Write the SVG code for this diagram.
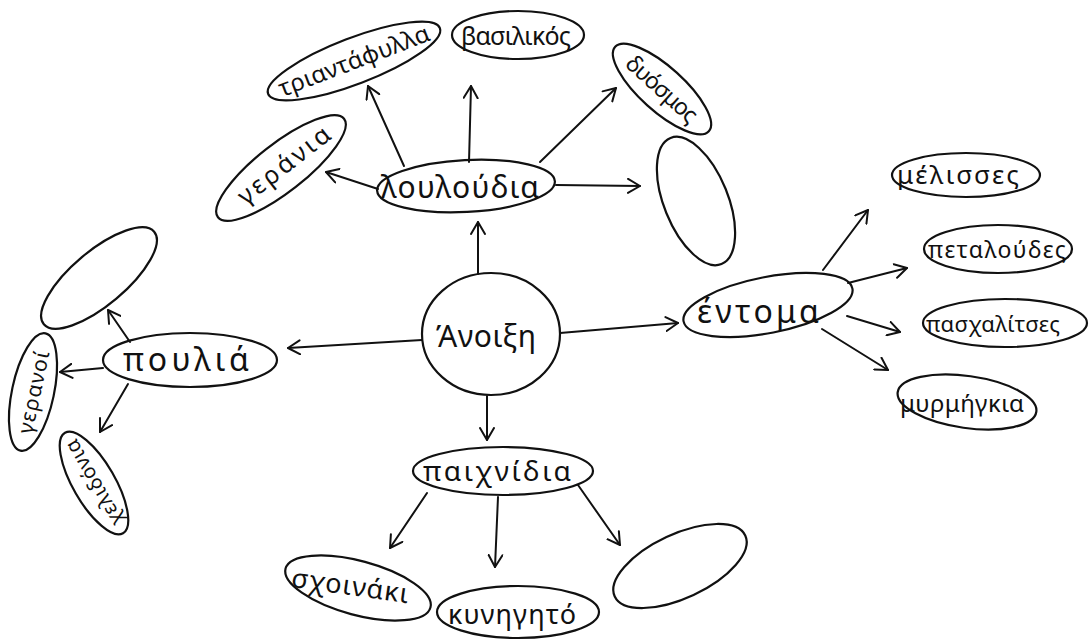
<svg xmlns="http://www.w3.org/2000/svg" width="1089" height="642" viewBox="0 0 1089 642">
<defs>
<marker id="arr" markerUnits="userSpaceOnUse" markerWidth="16" markerHeight="16" refX="13" refY="8" orient="auto">
<path d="M1,1 L13,8 L1,15" fill="none" stroke="#111" stroke-width="2" stroke-linecap="round" stroke-linejoin="round"/>
</marker>
</defs>
<style>
.n{fill:none;stroke:#111;stroke-width:2.2}
.t{font-family:"Noto Sans","DejaVu Sans",sans-serif;fill:#111;text-anchor:middle}
.c{fill:none;stroke:#111;stroke-width:2;stroke-linecap:round;marker-end:url(#arr)}
</style>
<rect width="1089" height="642" fill="#fff"/>
<g id="connectors">
<line class="c" x1="478" y1="274" x2="478" y2="222"/>
<line class="c" x1="422" y1="340" x2="288" y2="348"/>
<line class="c" x1="560" y1="333" x2="678" y2="323"/>
<line class="c" x1="487" y1="396" x2="487" y2="440"/>
<line class="c" x1="378" y1="189" x2="326" y2="172"/>
<line class="c" x1="404" y1="166" x2="368" y2="86"/>
<line class="c" x1="469" y1="162" x2="471" y2="86"/>
<line class="c" x1="540" y1="162" x2="616" y2="88"/>
<line class="c" x1="556" y1="185" x2="640" y2="186"/>
<line class="c" x1="130" y1="342" x2="108" y2="310"/>
<line class="c" x1="103" y1="368" x2="60" y2="372"/>
<line class="c" x1="128" y1="384" x2="100" y2="432"/>
<line class="c" x1="823" y1="270" x2="868" y2="210"/>
<line class="c" x1="848" y1="283" x2="907" y2="268"/>
<line class="c" x1="847" y1="316" x2="900" y2="332"/>
<line class="c" x1="822" y1="329" x2="888" y2="370"/>
<line class="c" x1="427" y1="493" x2="390" y2="548"/>
<line class="c" x1="498" y1="497" x2="495" y2="567"/>
<line class="c" x1="578" y1="485" x2="620" y2="545"/>
</g>
<g id="n-anoixi">
<ellipse class="n" cx="491" cy="334" rx="69" ry="61"/>
<text class="t" x="486" y="347" font-size="30" textLength="100">Άνοιξη</text>
</g>
<g id="n-louloudia">
<ellipse class="n" cx="466" cy="186" rx="89" ry="26" transform="rotate(-3 466 186)"/>
<text class="t" x="460" y="198" font-size="30" textLength="158">λουλούδια</text>
</g>
<g id="n-triantafylla">
<ellipse class="n" cx="354" cy="61" rx="92" ry="23" transform="rotate(-21 354 61)"/>
<text class="t" x="354" y="69" font-size="24" textLength="160" transform="rotate(-21 354 61)">τριαντάφυλλα</text>
</g>
<g id="n-vasilikos">
<ellipse class="n" cx="518" cy="35" rx="66" ry="24"/>
<text class="t" x="516" y="45" font-size="25" textLength="110">βασιλικός</text>
</g>
<g id="n-dyosmos">
<ellipse class="n" cx="662" cy="89" rx="63" ry="22" transform="rotate(42 662 89)"/>
<text class="t" x="662" y="97" font-size="23" textLength="88" transform="rotate(42 662 89)">δυόσμος</text>
</g>
<g id="n-gerania">
<ellipse class="n" cx="281" cy="168" rx="80" ry="24" transform="rotate(-38 281 168)"/>
<text class="t" x="285" y="176" font-size="25" textLength="110" transform="rotate(-38 281 168)">γεράνια</text>
</g>
<g id="n-empty-flowers">
<ellipse class="n" cx="696" cy="201" rx="68" ry="32" transform="rotate(68 696 201)"/>
</g>
<g id="n-poulia">
<ellipse class="n" cx="190" cy="360" rx="87" ry="27"/>
<text class="t" x="186" y="371" font-size="32" textLength="126">πουλιά</text>
</g>
<g id="n-empty-birds">
<ellipse class="n" cx="99" cy="278" rx="72" ry="27" transform="rotate(-40 99 278)"/>
</g>
<g id="n-geranoi">
<ellipse class="n" cx="33" cy="392" rx="60" ry="21" transform="rotate(-78 33 392)"/>
<text class="t" x="33" y="400" font-size="21" textLength="84" transform="rotate(-78 33 392)">γερανοί</text>
</g>
<g id="n-chelidonia">
<ellipse class="n" cx="94" cy="483" rx="58" ry="21" transform="rotate(60 94 483)"/>
<text class="t" x="94" y="490" font-size="20" textLength="96" transform="rotate(240 94 483)">χελιδόνια</text>
</g>
<g id="n-entoma">
<ellipse class="n" cx="768" cy="305" rx="86" ry="28" transform="rotate(-11 768 305)"/>
<text class="t" x="758" y="323" font-size="32" textLength="122">έντομα</text>
</g>
<g id="n-melisses">
<ellipse class="n" cx="966" cy="175" rx="74" ry="22"/>
<text class="t" x="958" y="184" font-size="26" textLength="122">μέλισσες</text>
</g>
<g id="n-petaloudes">
<ellipse class="n" cx="998" cy="249" rx="74" ry="24"/>
<text class="t" x="997" y="258" font-size="23" textLength="138">πεταλούδες</text>
</g>
<g id="n-paschalitses">
<ellipse class="n" cx="1005" cy="323" rx="82" ry="24"/>
<text class="t" x="993" y="332" font-size="22" textLength="134">πασχαλίτσες</text>
</g>
<g id="n-myrmigkia">
<ellipse class="n" cx="967" cy="402" rx="70" ry="26" transform="rotate(8 967 402)"/>
<text class="t" x="962" y="412" font-size="24" textLength="124">μυρμήγκια</text>
</g>
<g id="n-paichnidia">
<ellipse class="n" cx="503" cy="471" rx="90" ry="24"/>
<text class="t" x="497" y="481" font-size="28" textLength="148">παιχνίδια</text>
</g>
<g id="n-schoinaki">
<ellipse class="n" cx="358" cy="588" rx="75" ry="27" transform="rotate(15 358 588)"/>
<text class="t" x="350" y="595" font-size="27" textLength="118" transform="rotate(8 350 588)">σχοινάκι</text>
</g>
<g id="n-kynigito">
<ellipse class="n" cx="518" cy="612" rx="81" ry="26"/>
<text class="t" x="512" y="624" font-size="27" textLength="128">κυνηγητό</text>
</g>
<g id="n-empty-games">
<ellipse class="n" cx="680" cy="566" rx="72" ry="32" transform="rotate(-25 680 566)"/>
</g>
</svg>
